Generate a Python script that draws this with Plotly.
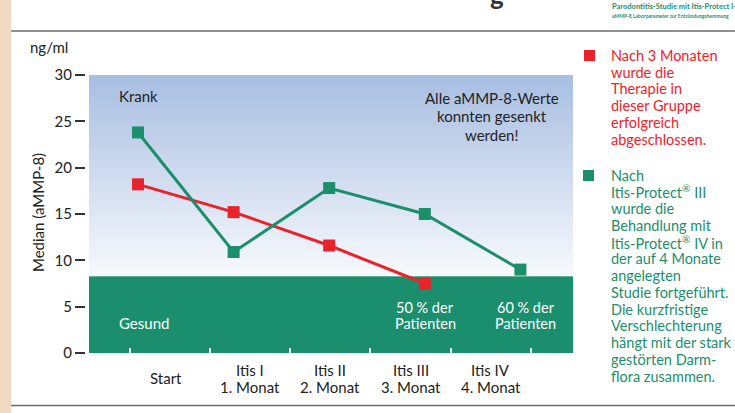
import numpy as np
import plotly.graph_objects as go

# ---------------- data ----------------
stages = ["Start", "Itis I", "Itis II", "Itis III", "Itis IV"]
months = ["", "1. Monat", "2. Monat", "3. Monat", "4. Monat"]
red_values = [18.2, 15.2, 11.6, 7.5, None]
green_values = [23.8, 10.9, 17.8, 15.0, 9.0]
healthy_limit = 8.3
y_ticks = [0, 5, 10, 15, 20, 25, 30]
red_note = ["Nach 3 Monaten", "wurde die", "Therapie in", "dieser Gruppe",
            "erfolgreich", "abgeschlossen."]
green_note = ["Nach", "Itis-Protect<sup>®</sup> III", "wurde die", "Behandlung mit",
              "Itis-Protect<sup>®</sup> IV in", "der auf 4 Monate", "angelegten",
              "Studie fortgeführt.", "Die kurzfristige", "Verschlechterung",
              "hängt mit der stark", "gestörten Darm-", "flora zusammen."]
summary_note = ["Alle aMMP-8-Werte", "konnten gesenkt", "werden!"]
red_pct = ["50 % der", "Patienten"]
green_pct = ["60 % der", "Patienten"]

# ---------------- style ----------------
RED = "#e8232b"
GREEN = "#1b8e6b"
BAND = "#1b8f6d"
TXT = "#222222"
FONT = "Lato"

W, H = 735, 413
L, R, T, B = 86, 162, 75, 60
PW = W - L - R
PH = H - T - B


def px(x):
    return (x - L) / PW


def py(y):
    return (H - B - y) / PH


fig = go.Figure()

# background gradient (style only)
edges = np.linspace(healthy_limit, 30, 81)
mids = (edges[:-1] + edges[1:]) / 2
z = [[(m - healthy_limit) / (30 - healthy_limit)] for m in mids]
fig.add_trace(go.Heatmap(
    x=[0, 1], y=edges, z=z, xaxis="x2", yaxis="y",
    colorscale=[[0, "#f8fafd"], [0.5, "#cfdbef"], [1, "#a7bee2"]],
    zmin=0, zmax=1, showscale=False, hoverinfo="skip"))

fig.add_trace(go.Scatter(
    x=stages, y=red_values, xaxis="x3", yaxis="y", mode="lines+markers",
    line=dict(color=RED, width=3), marker=dict(symbol="square", size=12, color=RED),
    hoverinfo="skip"))
fig.add_trace(go.Scatter(
    x=stages, y=green_values, xaxis="x3", yaxis="y", mode="lines+markers",
    line=dict(color=GREEN, width=3), marker=dict(symbol="square", size=12, color=GREEN),
    hoverinfo="skip"))

# healthy band
fig.add_shape(type="rect", xref="x2", yref="y", x0=0, x1=1, y0=0, y1=healthy_limit,
              fillcolor=BAND, line=dict(width=0), layer="below")
fig.add_shape(type="line", xref="x2", yref="y", x0=0, x1=1, y0=healthy_limit, y1=healthy_limit,
              line=dict(color="#8fcdb6", width=1), layer="below")

# page decorations
fig.add_shape(type="rect", xref="paper", yref="paper", x0=px(0), x1=px(11), y0=py(H), y1=py(0),
              fillcolor="#f2d9c2", line=dict(width=0), layer="below")
for yy in (31, 405.5):
    fig.add_shape(type="line", xref="paper", yref="paper", x0=px(11), x1=px(W), y0=py(yy), y1=py(yy),
                  line=dict(color="#6a6a6a", width=1.6))


def text(x, y, s, color=TXT, size=15, xanchor="left", **kw):
    fig.add_annotation(x=px(x), y=py(y), xref="paper", yref="paper", text=s, showarrow=False,
                       xanchor=xanchor, yanchor="middle", font=dict(color=color, size=size, family=FONT), **kw)


# x category labels
for i, (s, m) in enumerate(zip(stages, months)):
    if m:
        fig.add_annotation(x=i, xref="x", y=0, yref="paper", yshift=-17, text=s, showarrow=False,
                           yanchor="middle", font=dict(size=15, color=TXT, family=FONT))
        fig.add_annotation(x=i, xref="x", y=0, yref="paper", yshift=-33.7, text=m, showarrow=False,
                           yanchor="middle", font=dict(size=15, color=TXT, family=FONT))
    else:
        fig.add_annotation(x=i, xref="x", y=0, yref="paper", yshift=-25, xshift=-4, text=s, showarrow=False,
                           yanchor="middle", font=dict(size=15, color=TXT, family=FONT))

# axis texts
text(28, 47, "ng/ml")
text(38, 213, "Median (aMMP-8)", xanchor="center", textangle=-90)

# in-chart notes
text(117, 96, "Krank")
for k, s in enumerate(summary_note):
    text(492, 98 + k * 18.5, s, xanchor="center")
text(117, 323, "Gesund", color="white")
for k, s in enumerate(red_pct):
    text(425, 307.7 + k * 15.8, s, color="white", xanchor="center", size=14.5)
for k, s in enumerate(green_pct):
    text(525.5, 307.7 + k * 15.8, s, color="white", xanchor="center", size=14.5)

# side notes
fig.add_shape(type="rect", xref="paper", yref="paper", x0=px(584), x1=px(595), y0=py(61), y1=py(50),
              fillcolor=RED, line=dict(width=0))
for k, s in enumerate(red_note):
    text(609, 55.3 + k * 16.75, s, color=RED, size=14.5)
fig.add_shape(type="rect", xref="paper", yref="paper", x0=px(583), x1=px(594), y0=py(181), y1=py(170),
              fillcolor=GREEN, line=dict(width=0))
for k, s in enumerate(green_note):
    text(609, 175 + k * 16.75, s, color=GREEN, size=14.5)

# header
text(610, 6, "<b>Parodontitis-Studie mit Itis-Protect I-IV</b>", color="#1e9070", size=7.5)
text(610, 15.5, "<b>aMMP-8 Laborparameter zur Entzündungshemmung</b>", color="#1e9070", size=5)
text(497, -5, "<b>g</b>", color="#333333", size=26, xanchor="center")

fig.update_layout(
    width=W, height=H,
    margin=dict(l=L, r=R, t=T, b=B, autoexpand=False),
    paper_bgcolor="white", plot_bgcolor="rgba(0,0,0,0)",
    showlegend=False,
    font=dict(family=FONT, size=15, color=TXT),
    xaxis=dict(range=[-1.043, 5.022], tickvals=[i - 0.5 for i in range(len(stages) + 1)],
               ticks="inside", ticklen=5, tickwidth=1.5, tickcolor="#e6f3ee",
               showticklabels=False, showgrid=False, zeroline=False, showline=False, fixedrange=True),
    xaxis2=dict(overlaying="x", range=[-3 / 484, 1], visible=False, fixedrange=True),
    xaxis3=dict(overlaying="x", type="category", categoryorder="array", categoryarray=stages,
                range=[-0.544, 4.55], visible=False, fixedrange=True),
    yaxis=dict(range=[0, 30], tickvals=y_ticks, ticks="outside", ticklen=10, tickwidth=1.5,
               tickcolor="#333", showgrid=False, zeroline=False, showline=False,
               tickfont=dict(size=15, color=TXT, family=FONT), fixedrange=True),
)

fig.write_html("out.html", config={"displayModeBar": False},
               post_script="document.body.style.margin='0';document.body.style.overflow='hidden';")
